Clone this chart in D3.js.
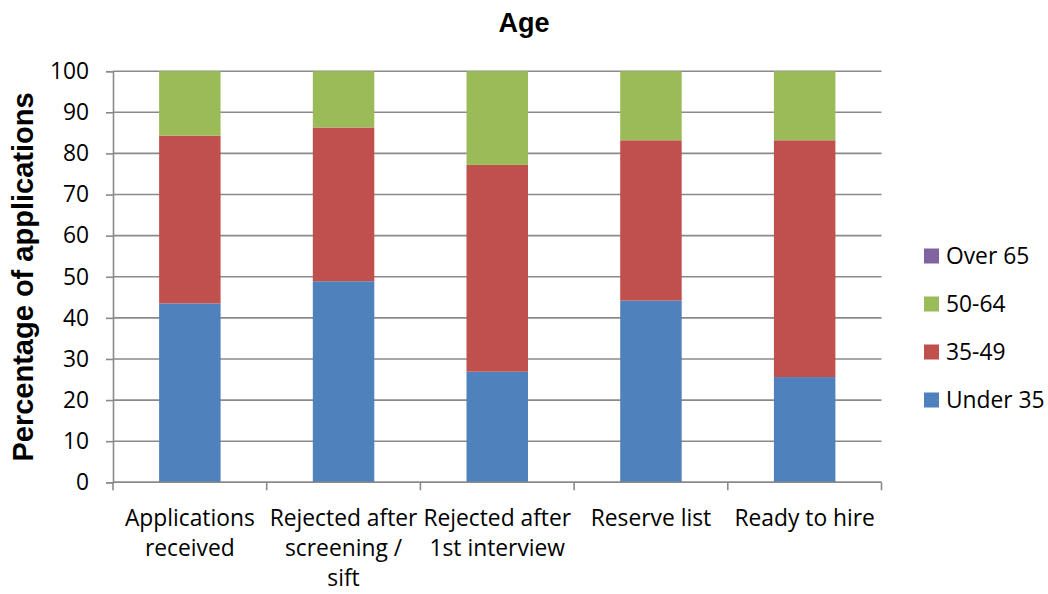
<!DOCTYPE html>
<html>
<head>
<meta charset="utf-8">
<script src="https://cdn.jsdelivr.net/npm/d3@7/dist/d3.min.js"></script>
<style>
  html, body { margin: 0; padding: 0; background: #fff; }
  svg { display: block; }
</style>
</head>
<body>
<svg id="chart" width="1048" height="594"></svg>
<script>
// Stages of the recruitment process (each entry holds the wrapped label lines)
const categories = [
  ["Applications", "received"],
  ["Rejected after", "screening /", "sift"],
  ["Rejected after", "1st interview"],
  ["Reserve list"],
  ["Ready to hire"]
];
const stageKeys = ["Applications received", "Rejected after screening / sift",
  "Rejected after 1st interview", "Reserve list", "Ready to hire"];

// Age groups, stacked bottom to top
const seriesNames = ["Under 35", "35-49", "50-64", "Over 65"];
const under35 = [43.5, 48.9, 26.9, 44.2, 25.6];
const age35to49 = [40.8, 37.4, 50.3, 39.0, 57.6];
const age50to64 = [15.7, 13.7, 22.8, 16.8, 16.8];
const over65 = [0, 0, 0, 0, 0];
const yTicks = [0, 10, 20, 30, 40, 50, 60, 70, 80, 90, 100];

const colors = {"Under 35": "#4F81BD", "35-49": "#C0504D", "50-64": "#9BBB59", "Over 65": "#8064A2"};

const rows = stageKeys.map((k, i) => ({
  stage: k,
  "Under 35": under35[i],
  "35-49": age35to49[i],
  "50-64": age50to64[i],
  "Over 65": over65[i]
}));

const svg = d3.select("#chart");
const plotLeft = 113, plotRight = 881.5, plotTop = 71.2, plotBottom = 482.3;

const x = d3.scaleBand().domain(stageKeys).range([plotLeft, plotRight]).paddingInner(0.6).paddingOuter(0.3);
const y = d3.scaleLinear().domain([0, 100]).range([plotBottom, plotTop]);

const tickFont = "'Open Sans', 'Noto Sans', sans-serif";
const labelSize = 22.8;

// Horizontal gridlines
svg.append("g")
  .selectAll("line")
  .data(yTicks)
  .join("line")
  .attr("x1", plotLeft).attr("x2", plotRight)
  .attr("y1", d => y(d)).attr("y2", d => y(d))
  .attr("stroke", "#8a8a8a").attr("stroke-width", 1.6);

// Stacked bars
const stack = d3.stack().keys(seriesNames);
const layers = stack(rows);
svg.append("g")
  .selectAll("g")
  .data(layers)
  .join("g")
  .attr("fill", d => colors[d.key])
  .selectAll("rect")
  .data(d => d)
  .join("rect")
  .attr("x", d => x(d.data.stage))
  .attr("width", x.bandwidth())
  .attr("y", d => y(d[1]))
  .attr("height", d => y(d[0]) - y(d[1]));

// Y axis
const yAxis = d3.axisLeft(y).tickValues(yTicks).tickSize(7).tickPadding(17);
const gy = svg.append("g").attr("transform", `translate(${plotLeft},0)`).call(yAxis);
gy.select(".domain").attr("stroke", "#8a8a8a").attr("stroke-width", 1.6);
gy.selectAll(".tick line").attr("stroke", "#8a8a8a").attr("stroke-width", 1.6);
gy.selectAll(".tick text")
  .attr("font-family", tickFont).attr("font-size", labelSize).attr("fill", "#000");

// X axis: tick marks at band boundaries
const boundaries = stageKeys.map(k => x(k) - x.step() * x.paddingInner() / 2).concat([plotRight]);
const gx = svg.append("g");
gx.append("line")
  .attr("x1", plotLeft).attr("x2", plotRight).attr("y1", plotBottom).attr("y2", plotBottom)
  .attr("stroke", "#8a8a8a").attr("stroke-width", 1.6);
gx.selectAll("line.tk")
  .data(boundaries)
  .join("line").attr("class", "tk")
  .attr("x1", d => d).attr("x2", d => d)
  .attr("y1", plotBottom).attr("y2", plotBottom + 8)
  .attr("stroke", "#8a8a8a").attr("stroke-width", 1.6);

// Category labels
gx.selectAll("text.cat")
  .data(stageKeys)
  .join("text").attr("class", "cat")
  .attr("x", d => x(d) + x.bandwidth() / 2)
  .attr("y", 526)
  .attr("text-anchor", "middle")
  .attr("font-family", tickFont).attr("font-size", labelSize).attr("fill", "#000")
  .each(function(d, i) {
    d3.select(this).selectAll("tspan")
      .data(categories[i])
      .join("tspan")
      .attr("x", x(d) + x.bandwidth() / 2)
      .attr("dy", (t, j) => j === 0 ? 0 : 30)
      .text(t => t);
  });

// Title
svg.append("text")
  .attr("x", 524).attr("y", 32)
  .attr("text-anchor", "middle")
  .attr("font-family", "'Liberation Sans', Arial, sans-serif")
  .attr("font-weight", "bold").attr("font-size", 27)
  .text("Age");

// Y axis title
svg.append("text")
  .attr("transform", "translate(33,277) rotate(-90)")
  .attr("text-anchor", "middle")
  .attr("font-family", "'Liberation Sans', Arial, sans-serif")
  .attr("font-weight", "bold").attr("font-size", 29)
  .text("Percentage of applications");

// Legend (top entry is the top of the stack)
const legendItems = seriesNames.slice().reverse();
const legend = svg.append("g").selectAll("g")
  .data(legendItems)
  .join("g")
  .attr("transform", (d, i) => `translate(924, ${256 + i * 48})`);
legend.append("rect")
  .attr("x", 0).attr("y", -7.5).attr("width", 15).attr("height", 15)
  .attr("fill", d => colors[d]);
legend.append("text")
  .attr("x", 22).attr("y", 0).attr("dy", "0.36em")
  .attr("font-family", tickFont).attr("font-size", labelSize).attr("fill", "#000")
  .text(d => d);
</script>
</body>
</html>
